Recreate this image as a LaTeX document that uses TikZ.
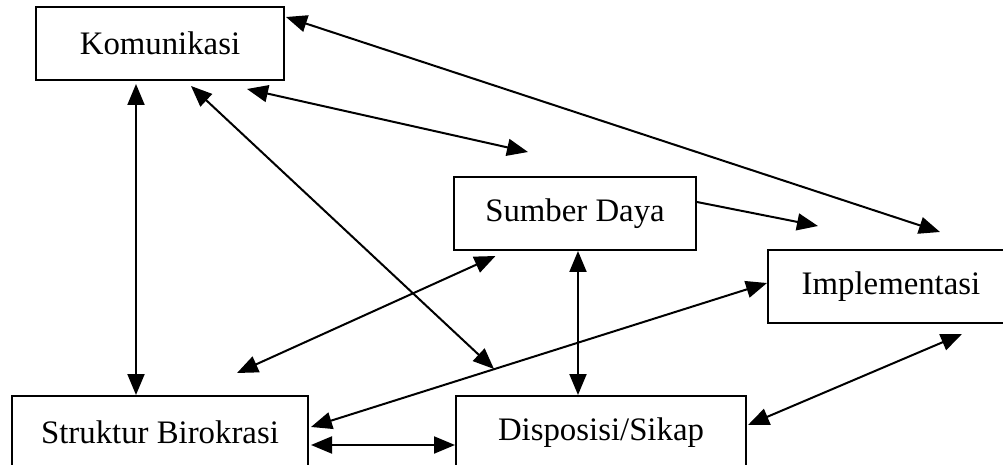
\documentclass[tikz,border=0pt]{standalone}
\usepackage{fontspec}
\setmainfont{Liberation Serif}
\usetikzlibrary{positioning,arrows.meta}

\begin{document}
\begin{tikzpicture}[x=0.5pt,y=-0.5pt,
		every node/.style={draw,
			line width=1pt,
			font=\fontsize{16.4}{19}\selectfont,
			inner sep=0pt,
			minimum height=36.5pt,
		},
		link/.style={{Triangle[length=10.5pt,width=8.5pt]}-{Triangle[length=10.5pt,width=8.5pt]}, line width=1pt},
		oneway/.style={-{Triangle[length=10.5pt,width=8.5pt]}, line width=1pt},
		]
		\useasboundingbox (0,0) rectangle (1003,465);
		\clip (0,0) rectangle (1003,465);

		\node (komunikasi) [minimum width=124pt] at (160,43.5) {Komunikasi};
		\node (sumber) [minimum width=121pt] at (575,213.5) {Sumber Daya};
		\node (implementasi) [minimum width=123pt] at (891,286.5) {Implementasi};
		\node (struktur) [minimum width=148pt, below = 157pt of komunikasi] {Struktur Birokrasi};
		\node (disposisi) [minimum width=145pt, right = 73pt of struktur] {Disposisi/Sikap};

		\draw[link] ([shift={(1,11)}]komunikasi.north east) -- ([shift={(49,-17)}]implementasi.north);
		\draw[link] ([shift={(-38,8)}]komunikasi.south east) -- ([shift={(-47,-24)}]sumber.north);
		\draw[link] ([shift={(-24,3)}]komunikasi.south) -- ([shift={(-24,0)}]struktur.north);
		\draw[link] ([shift={(31,5)}]komunikasi.south) -- ([shift={(39,-26)}]disposisi.north west);
		\draw[oneway] ([shift={(0,-11.5)}]sumber.east) -- ([shift={(51,-23)}]implementasi.north west);
		\draw[link] ([shift={(42.5,5)}]sumber.south west) -- ([shift={(77,-22)}]struktur.north);
		\draw[link] ([xshift=1.5pt]sumber.south) -- ([xshift=1.5pt]sumber.south |- disposisi.north);
		\draw[link] ([shift={(2,-5.5)}]struktur.east) -- ([shift={(0,-3.5)}]implementasi.west);
		\draw[link] ([shift={(2,12.5)}]struktur.east) -- ([shift={(0,12.5)}]disposisi.west);
		\draw[link] ([shift={(1,-7.5)}]disposisi.east) -- ([shift={(195,10)}]implementasi.south west);

	\end{tikzpicture}
\end{document}
